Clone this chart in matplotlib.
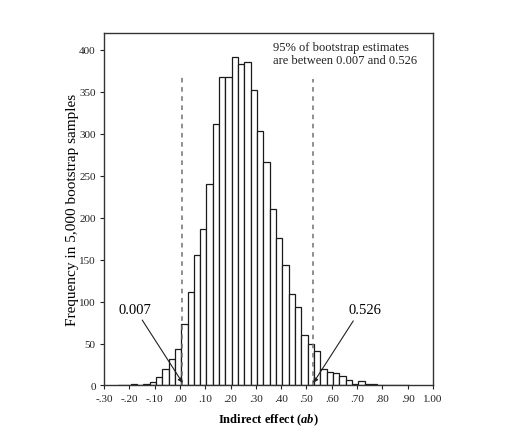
import numpy as np
import matplotlib.pyplot as plt

plt.rcParams['font.family'] = ['Liberation Serif', 'DejaVu Serif']
plt.rcParams['mathtext.fontset'] = 'custom'
plt.rcParams['mathtext.it'] = 'Liberation Serif:italic:bold'
plt.rcParams['mathtext.rm'] = 'Liberation Serif:bold'

# Histograma de 5000 estimaciones bootstrap (ancho de clase 0.025)
bin_width = 0.025
first_edge = -0.245
counts = [1, 1, 2, 1, 2, 4, 10, 20, 31, 44,
          73, 112, 156, 187, 240, 312, 367, 368, 391, 383, 386,
          352, 303, 266, 210, 176, 144, 109, 94, 60, 50, 41,
          20, 16, 15, 11, 7, 2, 5, 2, 2, 1, 1, 0, 0, 1]
edges = first_edge + bin_width * np.arange(len(counts))

ci_low = 0.007
ci_high = 0.526
xticks = [-0.3, -0.2, -0.1, 0.0, 0.1, 0.2, 0.3, 0.4, 0.5, 0.6, 0.7, 0.8, 0.9, 1.0]
xtick_labels = ['-.30', '-.20', '-.10', '.00', '.10', '.20', '.30', '.40',
                '.50', '.60', '.70', '.80', '.90', '1.00']
yticks = np.arange(0, 401, 50)

fig = plt.figure(figsize=(5.14, 4.35), dpi=100)
ax = fig.add_axes([0.2023, 0.1115, 0.6401, 0.8103])

ax.bar(edges, counts, width=bin_width, align='edge',
       facecolor='white', edgecolor='#1a1a1a', linewidth=0.9)

# Limites del intervalo de confianza
for xv, top in [(ci_low, 368), (ci_high, 365)]:
    ax.plot([xv, xv], [0, top], color='#707070', linestyle=(0, (3, 3)),
            linewidth=1.1)

ax.text(-0.176, 90, '0.007', fontsize=10.5, ha='center', va='center')
ax.annotate('', xy=(0.011, 3), xytext=(-0.149, 78),
            arrowprops=dict(arrowstyle='-|>', color='#222222', lw=0.8,
                            mutation_scale=7, shrinkA=0, shrinkB=0))
ax.text(0.732, 90, '0.526', fontsize=10.5, ha='center', va='center')
ax.annotate('', xy=(0.527, 3), xytext=(0.685, 77),
            arrowprops=dict(arrowstyle='-|>', color='#222222', lw=0.8,
                            mutation_scale=7, shrinkA=0, shrinkB=0))

ax.text(0.367, 411, '95% of bootstrap estimates\nare between 0.007 and 0.526',
        fontsize=9, ha='left', va='top', linespacing=1.2, color='#222222')

ax.set_xlim(-0.30, 1.00)
ax.set_ylim(0, 420)
ax.set_xticks(xticks)
ax.set_xticklabels(xtick_labels)
ax.set_yticks(yticks)
ax.tick_params(labelsize=8, length=3, width=0.8, colors='#222222', pad=3)

for sp in ax.spines.values():
    sp.set_linewidth(1.0)
    sp.set_color('#333333')

ax.set_xlabel(r'Indirect effect ($ab$)', fontsize=9,
              fontweight='bold', labelpad=6)
ax.set_ylabel('Frequency in 5,000 bootstrap samples', fontsize=11,
              labelpad=0)

fig.savefig('out.png', dpi=100)
